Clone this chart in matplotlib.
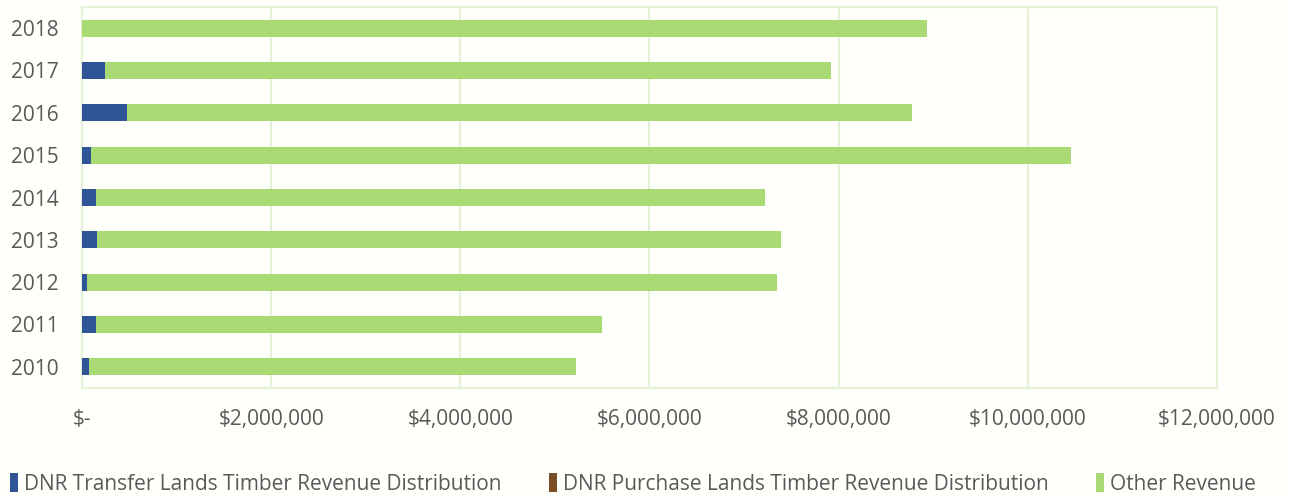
import matplotlib
matplotlib.use("Agg")
import numpy as np
from matplotlib import pyplot as plt
from matplotlib.ticker import FuncFormatter

years = ["2010", "2011", "2012", "2013", "2014", "2015", "2016", "2017", "2018"]
transfer = [70000, 150000, 50000, 160000, 150000, 100000, 480000, 240000, 0]
purchase = [0, 0, 0, 0, 0, 0, 0, 0, 0]
other = [5150000, 5350000, 7300000, 7230000, 7070000, 10360000, 8300000, 7680000, 8930000]

series_names = ["DNR Transfer Lands Timber Revenue Distribution",
                "DNR Purchase Lands Timber Revenue Distribution",
                "Other Revenue"]
colors = ["#2f5597", "#7b4f26", "#a9da74"]

plt.rcParams["font.family"] = ["Open Sans", "DejaVu Sans"]
text_color = "#595959"
frame_color = "#e4f2da"
bg = "#fffffb"

fig = plt.figure(figsize=(12.89, 4.96), dpi=100, facecolor=bg)
ax = fig.add_axes([82 / 1289, 1 - 388 / 496, (1217 - 82) / 1289, 381 / 496])
ax.set_facecolor(bg)

y = np.arange(len(years))
left = np.zeros(len(years))
for vals, name, c in zip([transfer, purchase, other], series_names, colors):
    ax.barh(y, vals, left=left, height=0.4, color=c, label=name, zorder=3)
    left += np.array(vals)

ax.set_xlim(0, 12000000)
ax.set_ylim(-0.5, len(years) - 0.5)
ax.set_xticks(np.arange(0, 12000001, 2000000))
ax.set_yticks(y)
ax.set_yticklabels(years)


def money(v, pos):
    if v == 0:
        return "$-"
    return "${:,.0f}".format(v)


ax.xaxis.set_major_formatter(FuncFormatter(money))
ax.grid(axis="x", color=frame_color, linewidth=1.5, zorder=0)
for s in ax.spines.values():
    s.set_color(frame_color)
    s.set_linewidth(1.5)
ax.tick_params(axis="both", length=0, labelsize=15, labelcolor=text_color)
ax.tick_params(axis="x", pad=15)
ax.tick_params(axis="y", pad=17)

fig.legend(loc="lower center", ncol=3, frameon=False, fontsize=15,
           labelcolor=text_color, handlelength=0.4, handleheight=1.0,
           handletextpad=0.3, columnspacing=2.25, bbox_to_anchor=(0.491, -0.035))

fig.savefig("out.png", dpi=100, facecolor=bg)
